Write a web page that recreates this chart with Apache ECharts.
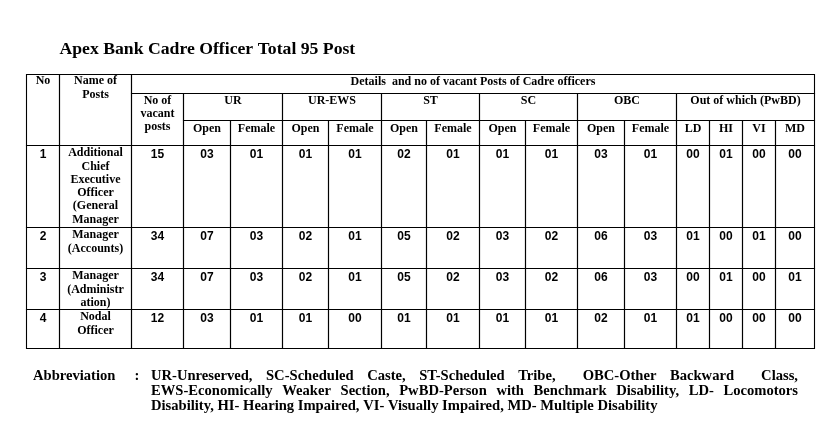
<!DOCTYPE html>
<html><head><meta charset="utf-8">
<script src="https://cdn.jsdelivr.net/npm/echarts@6/dist/echarts.min.js"></script>
<style>html,body{margin:0;padding:0;background:#fff}#c{width:827px;height:427px}</style>
</head><body><div id="c"></div>
<script>
// ---------------- data ----------------
const titleText = 'Apex Bank Cadre Officer Total 95 Post';
const detailsHeader = 'Details  and no of vacant Posts of Cadre officers';
const noHeader = 'No';
const nameHeader = 'Name of\nPosts';
const vacantHeader = 'No of\nvacant\nposts';
const groupHeaders = ['UR', 'UR-EWS', 'ST', 'SC', 'OBC', 'Out of which (PwBD)'];
const subHeaders = ['Open', 'Female', 'Open', 'Female', 'Open', 'Female', 'Open', 'Female', 'Open', 'Female', 'LD', 'HI', 'VI', 'MD'];
const postNos = ['1', '2', '3', '4'];
const postNames = ['Additional\nChief\nExecutive\nOfficer\n(General\nManager', 'Manager\n(Accounts)', 'Manager\n(Administr\nation)', 'Nodal\nOfficer'];
const vacantPosts = ['15', '34', '34', '12'];
const urOpen = ['03', '07', '07', '03'];
const urFemale = ['01', '03', '03', '01'];
const ewsOpen = ['01', '02', '02', '01'];
const ewsFemale = ['01', '01', '01', '00'];
const stOpen = ['02', '05', '05', '01'];
const stFemale = ['01', '02', '02', '01'];
const scOpen = ['01', '03', '03', '01'];
const scFemale = ['01', '02', '02', '01'];
const obcOpen = ['03', '06', '06', '02'];
const obcFemale = ['01', '03', '03', '01'];
const pwbdLD = ['00', '01', '00', '01'];
const pwbdHI = ['01', '00', '01', '00'];
const pwbdVI = ['00', '01', '00', '00'];
const pwbdMD = ['00', '00', '01', '00'];
const abbrLabel = 'Abbreviation';
const abbrLines = [
  'UR-Unreserved, SC-Scheduled Caste, ST-Scheduled Tribe,  OBC-Other Backward  Class,',
  'EWS-Economically Weaker Section, PwBD-Person with Benchmark Disability, LD- Locomotors',
  'Disability, HI- Hearing Impaired, VI- Visually Impaired, MD- Multiple Disability'
];

// ---------------- layout ----------------
const colEdges = [26.5, 59.5, 131.5, 183.5, 230.5, 282.5, 328.5, 381.5, 426.5, 479.5, 525.5, 577.5, 624.5, 676.5, 709.5, 742.5, 775.5, 814.5];
const rowEdges = [74.5, 93.5, 120.5, 145.5, 227.5, 268.5, 309.5, 348.5];
const SERIF = '"Liberation Serif", "Times New Roman", serif';
const NARROW = '"Liberation Sans Narrow", "Arial Narrow", "Liberation Sans", Arial, sans-serif';

const valueCols = [urOpen, urFemale, ewsOpen, ewsFemale, stOpen, stFemale, scOpen, scFemale, obcOpen, obcFemale, pwbdLD, pwbdHI, pwbdVI, pwbdMD];
const groupSpans = [[3, 5], [5, 7], [7, 9], [9, 11], [11, 13], [13, 17]];

const cells = [];
function head(c0, c1, r0, r1, text, pad) { cells.push({ c0, c1, r0, r1, text, font: 'serif', pad: pad == null ? 1 : pad }); }
head(0, 1, 0, 3, noHeader, 0);
head(1, 2, 0, 3, nameHeader, 0);
head(2, 17, 0, 1, detailsHeader, 0.5);
head(2, 3, 1, 3, vacantHeader, 0.5);
groupHeaders.forEach((g, i) => head(groupSpans[i][0], groupSpans[i][1], 1, 2, g, 0.5));
subHeaders.forEach((s, i) => head(3 + i, 4 + i, 2, 3, s, 1.5));
postNos.forEach((n, i) => {
  const r = 3 + i;
  cells.push({ c0: 0, c1: 1, r0: r, r1: r + 1, text: n, font: 'num', pad: 2.5 });
  cells.push({ c0: 1, c1: 2, r0: r, r1: r + 1, text: postNames[i], font: 'serif', pad: 1 });
  cells.push({ c0: 2, c1: 3, r0: r, r1: r + 1, text: vacantPosts[i], font: 'num', pad: 2.5 });
  valueCols.forEach((col, j) => {
    cells.push({ c0: 3 + j, c1: 4 + j, r0: r, r1: r + 1, text: col[i], font: 'num', pad: 2.5 });
  });
});

function renderCell(params, api) {
  const c = cells[params.dataIndex];
  const p0 = api.coord([colEdges[c.c0], rowEdges[c.r0]]);
  const p1 = api.coord([colEdges[c.c1], rowEdges[c.r1]]);
  const isNum = c.font === 'num';
  return {
    type: 'group',
    children: [
      { type: 'rect', shape: { x: p0[0], y: p0[1], width: p1[0] - p0[0], height: p1[1] - p0[1] },
        style: { fill: 'none', stroke: '#000', lineWidth: 1.1 } },
      { type: 'text', style: {
          text: c.text, x: (p0[0] + p1[0]) / 2, y: p0[1] + c.pad,
          align: 'center', verticalAlign: 'top',
          fontFamily: isNum ? NARROW : SERIF, fontWeight: 'bold',
          fontSize: 12, lineHeight: isNum ? 13 : 13.3, fill: '#000'
        } }
    ]
  };
}

// footer justified text
const measureCtx = document.createElement('canvas').getContext('2d');
const FOOT_FONT_SIZE = 14.6;
measureCtx.font = 'bold ' + FOOT_FONT_SIZE + 'px ' + SERIF;
const footLeft = 151, footRight = 798;
const footY = [376.5, 391.5, 406];
const footer = [];
footer.push({ type: 'text', x: 33, y: footY[0], style: { text: abbrLabel, fontFamily: SERIF, fontWeight: 'bold', fontSize: FOOT_FONT_SIZE, fill: '#000', verticalAlign: 'middle' } });
footer.push({ type: 'text', x: 134.5, y: footY[0], style: { text: ':', fontFamily: SERIF, fontWeight: 'bold', fontSize: FOOT_FONT_SIZE, fill: '#000', verticalAlign: 'middle' } });
abbrLines.forEach((line, li) => {
  const toks = line.split(' ');
  const justify = li < abbrLines.length - 1;
  const widths = toks.map(t => measureCtx.measureText(t).width);
  const sum = widths.reduce((a, b) => a + b, 0);
  const gaps = toks.length - 1;
  const gap = justify ? (footRight - footLeft - sum) / gaps : measureCtx.measureText(' ').width;
  let x = footLeft;
  toks.forEach((t, k) => {
    if (t) footer.push({ type: 'text', x: x, y: footY[li], style: { text: t, fontFamily: SERIF, fontWeight: 'bold', fontSize: FOOT_FONT_SIZE, fill: '#000', verticalAlign: 'middle' } });
    x += widths[k] + gap;
  });
});

const chart = echarts.init(document.getElementById('c'), null, { renderer: 'canvas' });
chart.setOption({
  animation: false,
  backgroundColor: '#fff',
  grid: { left: 0, right: 0, top: 0, bottom: 0 },
  xAxis: { type: 'value', min: 0, max: 827, show: false },
  yAxis: { type: 'value', min: 0, max: 427, inverse: true, show: false },
  title: { text: titleText, left: 59.5, top: 40.5, padding: 0,
    textStyle: { fontFamily: SERIF, fontWeight: 'bold', fontSize: 17.7, color: '#000' } },
  graphic: footer,
  series: [{
    type: 'custom',
    coordinateSystem: 'cartesian2d',
    renderItem: renderCell,
    silent: true,
    clip: false,
    data: cells.map(c => [colEdges[c.c0], rowEdges[c.r0]])
  }]
});
</script></body></html>
